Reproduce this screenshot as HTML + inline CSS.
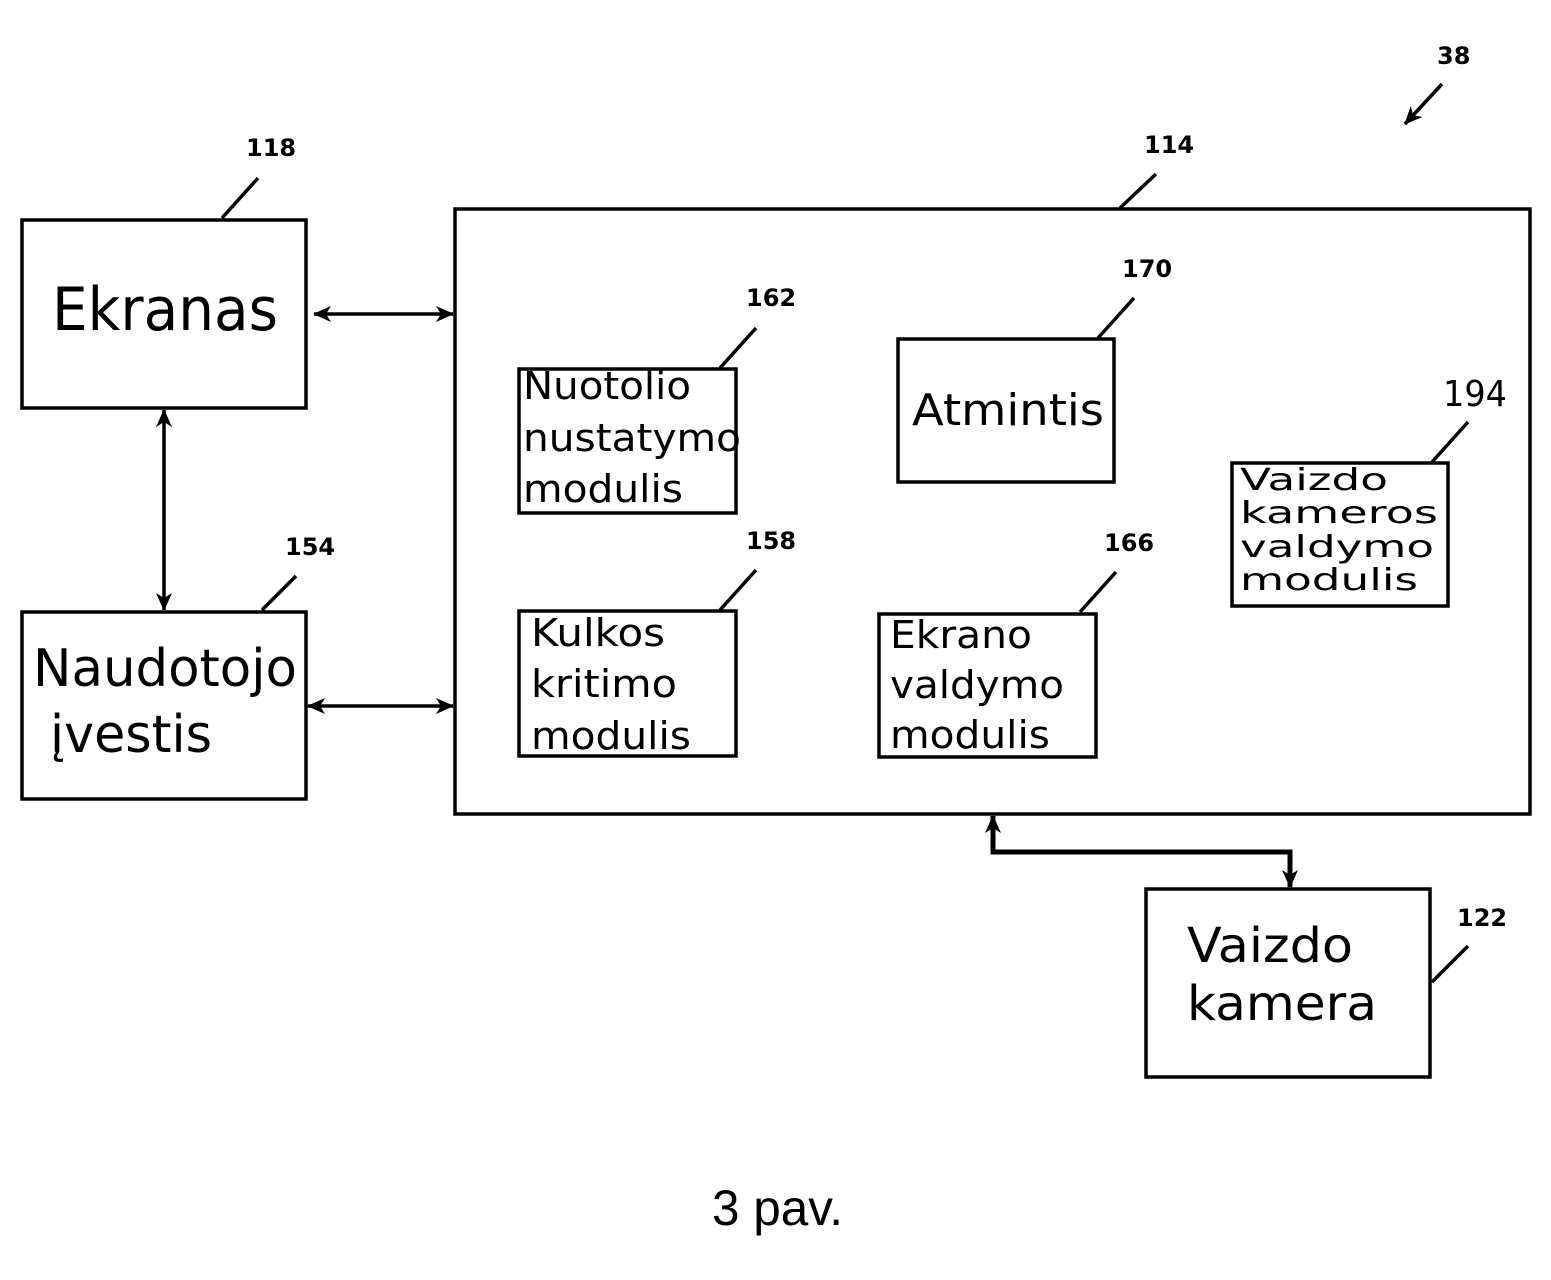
<!DOCTYPE html>
<html><head><meta charset="utf-8"><style>
html,body{margin:0;padding:0;background:#fff;}
svg{display:block;}
text{font-family:"DejaVu Sans","Liberation Sans",sans-serif;fill:#000;}
.n{font-weight:bold;font-size:24px;}
</style></head><body>
<svg width="1551" height="1280" viewBox="0 0 1551 1280" xmlns="http://www.w3.org/2000/svg">
<defs>
<marker id="a" viewBox="0 0 18 16" refX="17" refY="8" markerWidth="18" markerHeight="16" markerUnits="userSpaceOnUse" orient="auto-start-reverse">
<path d="M0,0 L18,8 L0,16 L5,8 Z" fill="#000"/>
</marker>
</defs>
<g fill="none" stroke="#000" stroke-width="3.5">
<rect x="22" y="220" width="284" height="188"/>
<rect x="22" y="612" width="284" height="187"/>
<rect x="455" y="209" width="1075" height="605"/>
<rect x="519" y="369" width="217" height="144"/>
<rect x="898" y="339" width="216" height="143"/>
<rect x="1232" y="463" width="216" height="143"/>
<rect x="519" y="611" width="217" height="145"/>
<rect x="879" y="614" width="217" height="143"/>
<rect x="1146" y="889" width="284" height="188"/>
<line x1="222" y1="218" x2="258" y2="178"/>
<line x1="262" y1="610" x2="296" y2="576"/>
<line x1="1120" y1="208" x2="1156" y2="174"/>
<line x1="720" y1="368" x2="756" y2="328"/>
<line x1="1098" y1="338" x2="1134" y2="298"/>
<line x1="1432" y1="462" x2="1468" y2="422"/>
<line x1="720" y1="610" x2="756" y2="570"/>
<line x1="1080" y1="612" x2="1116" y2="572"/>
<line x1="1432" y1="982" x2="1468" y2="946"/>
<line x1="314" y1="314" x2="453" y2="314" marker-start="url(#a)" marker-end="url(#a)"/>
<line x1="308" y1="706" x2="453" y2="706" marker-start="url(#a)" marker-end="url(#a)"/>
<line x1="164" y1="410" x2="164" y2="610" marker-start="url(#a)" marker-end="url(#a)"/>
<polyline stroke-width="5" points="993,816 993,852 1290,852 1290,887" marker-start="url(#a)" marker-end="url(#a)"/>
<line x1="1442" y1="84" x2="1405" y2="124" marker-end="url(#a)"/>
</g>
<text class="n" x="246" y="156">118</text>
<text class="n" x="285" y="555">154</text>
<text class="n" x="1144" y="153">114</text>
<text class="n" x="746" y="306">162</text>
<text class="n" x="1122" y="277">170</text>
<text class="n" x="746" y="549">158</text>
<text class="n" x="1104" y="551">166</text>
<text class="n" x="1457" y="926">122</text>
<text class="n" x="1437" y="64">38</text>
<text x="1443" y="406" font-size="36" textLength="64" lengthAdjust="spacingAndGlyphs">194</text>

<text x="52" y="330" font-size="60" textLength="226" lengthAdjust="spacingAndGlyphs">Ekranas</text>
<text x="33" y="686" font-size="52" textLength="264" lengthAdjust="spacingAndGlyphs">Naudotojo</text>
<text x="50" y="752" font-size="52" textLength="162" lengthAdjust="spacingAndGlyphs">įvestis</text>
<text x="912" y="425" font-size="44" textLength="192" lengthAdjust="spacingAndGlyphs">Atmintis</text>

<text x="523" y="399" font-size="38" textLength="168" lengthAdjust="spacingAndGlyphs">Nuotolio</text>
<text x="523" y="451" font-size="38" textLength="218" lengthAdjust="spacingAndGlyphs">nustatymo</text>
<text x="523" y="502" font-size="38" textLength="160" lengthAdjust="spacingAndGlyphs">modulis</text>

<text x="531" y="646" font-size="38" textLength="134" lengthAdjust="spacingAndGlyphs">Kulkos</text>
<text x="531" y="697" font-size="38" textLength="146" lengthAdjust="spacingAndGlyphs">kritimo</text>
<text x="531" y="749" font-size="38" textLength="160" lengthAdjust="spacingAndGlyphs">modulis</text>

<text x="890" y="648" font-size="38" textLength="142" lengthAdjust="spacingAndGlyphs">Ekrano</text>
<text x="890" y="698" font-size="38" textLength="174" lengthAdjust="spacingAndGlyphs">valdymo</text>
<text x="890" y="748" font-size="38" textLength="160" lengthAdjust="spacingAndGlyphs">modulis</text>

<text x="1240" y="490" font-size="30" textLength="148" lengthAdjust="spacingAndGlyphs">Vaizdo</text>
<text x="1240" y="523" font-size="30" textLength="198" lengthAdjust="spacingAndGlyphs">kameros</text>
<text x="1240" y="557" font-size="30" textLength="194" lengthAdjust="spacingAndGlyphs">valdymo</text>
<text x="1240" y="590" font-size="30" textLength="178" lengthAdjust="spacingAndGlyphs">modulis</text>

<text x="1187" y="962" font-size="48" textLength="166" lengthAdjust="spacingAndGlyphs">Vaizdo</text>
<text x="1187" y="1020" font-size="48" textLength="190" lengthAdjust="spacingAndGlyphs">kamera</text>

<text x="712" y="1225" font-size="50" style="font-family:'Liberation Sans',sans-serif" textLength="131" lengthAdjust="spacingAndGlyphs">3 pav.</text>
</svg>
</body></html>
